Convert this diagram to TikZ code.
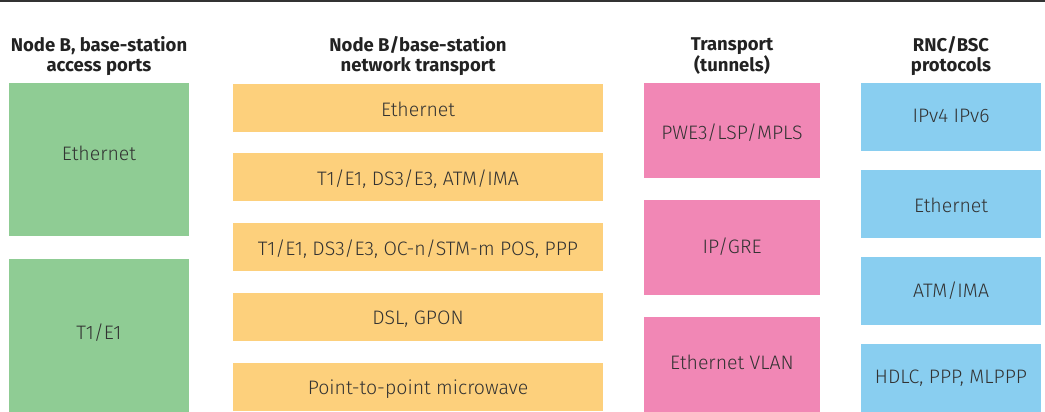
\documentclass[tikz,border=0pt]{standalone}
\usepackage{fontspec}
\setmainfont{Fira Sans}
\IfFontExistsTF{Fira Sans Light}
  {\newfontfamily\cellfont{Fira Sans Light}}
  {\newfontfamily\cellfont{Fira Sans}}
\definecolor{accgreen}{RGB}{143,204,148}
\definecolor{nwyellow}{RGB}{253,208,124}
\definecolor{tnpink}{RGB}{241,135,181}
\definecolor{rncblue}{RGB}{137,206,240}
\definecolor{bodytext}{RGB}{50,50,50}
\definecolor{headtext}{RGB}{34,34,34}
\definecolor{rulegray}{RGB}{51,51,51}
\tikzset{
  cell/.style={inner sep=0pt, draw=none},
  greencell/.style={cell, fill=accgreen, minimum width=180pt},
  yellowcell/.style={cell, fill=nwyellow, minimum width=370pt, minimum height=48pt},
  pinkcell/.style={cell, fill=tnpink, minimum width=176pt},
  bluecell/.style={cell, fill=rncblue, minimum width=180pt},
  % caps of the cell labels are centred on the given point
  celltext/.style={inner sep=0pt, text=bodytext, text height=13.4pt, text depth=0pt,
    font=\cellfont\fontsize{19.5}{23}\selectfont},
  colhead/.style={inner sep=0pt, text=headtext, align=center, font=\bfseries\fontsize{18.5}{20.5}\selectfont}
}
\begin{document}
\begin{tikzpicture}[x=1pt, y=-1pt]
\useasboundingbox (0,0) rectangle (1045,412);
% top rule
\fill[rulegray] (0,0) rectangle (1045,2.2);

% column headings
\node[colhead] (h1) at (99,56) {Node B, base-station\\access ports};
\node[colhead] (h2) at (418,56) {Node B/base-station\\network transport};
\node[colhead] (h3) at (732,56) {Transport\\(tunnels)};
\node[colhead] (h4) at (951,56) {RNC/BSC\\protocols};

% access ports
\node[greencell, minimum height=153pt] (g1) at (99,159.5) {};
\node[greencell, minimum height=153pt] (g2) at (99,335.5) {};
\node[celltext] (g1t) at ([yshift=6pt]g1.center) {Ethernet};
\node[celltext] (g2t) at ([yshift=2.5pt]g2.center) {T1/E1};

% network transport
\node[yellowcell] (y1) at (418,108) {};
\node[yellowcell] (y2) at (418,177) {};
\node[yellowcell] (y3) at (418,247) {};
\node[yellowcell] (y4) at (418,317) {};
\node[yellowcell] (y5) at (418,387) {};
\node[celltext] (y1t) at ([yshift=-2pt]y1.center) {Ethernet};
\node[celltext] (y2t) at ([yshift=-1.5pt]y2.center) {T1/E1, DS3/E3, ATM/IMA};
\node[celltext] (y3t) at ([yshift=-2pt]y3.center) {T1/E1, DS3/E3, OC-n/STM-m POS, PPP};
\node[celltext] (y4t) at ([yshift=-1pt]y4.center) {DSL, GPON};
\node[celltext] (y5t) at ([yshift=-1pt]y5.center) {Point-to-point microwave};

% tunnels
\node[pinkcell, minimum height=95pt] (p1) at (732,130.5) {};
\node[pinkcell, minimum height=95pt] (p2) at (732,247.5) {};
\node[pinkcell, minimum height=95pt] (p3) at (732,364.5) {};
\node[celltext] (p1t) at ([yshift=-2.5pt]p1.center) {PWE3/LSP/MPLS};
\node[celltext] (p2t) at ([yshift=0.5pt]p2.center) {IP/GRE};
\node[celltext] (p3t) at ([yshift=2pt]p3.center) {Ethernet VLAN};

% RNC/BSC protocols
\node[bluecell, minimum height=67.5pt] (b1) at (951,116.75) {};
\node[bluecell, minimum height=68pt] (b2) at (951,204) {};
\node[bluecell, minimum height=68pt] (b3) at (951,291) {};
\node[bluecell, minimum height=68pt] (b4) at (951,378) {};
\node[celltext] (b1t) at ([yshift=1pt]b1.center) {IPv4 IPv6};
\node[celltext] (b2t) at ([yshift=-2pt]b2.center) {Ethernet};
\node[celltext] (b3t) at ([yshift=0.5pt]b3.center) {ATM/IMA};
\node[celltext] (b4t) at ([yshift=1.5pt]b4.center) {HDLC, PPP, MLPPP};
\end{tikzpicture}
\end{document}
